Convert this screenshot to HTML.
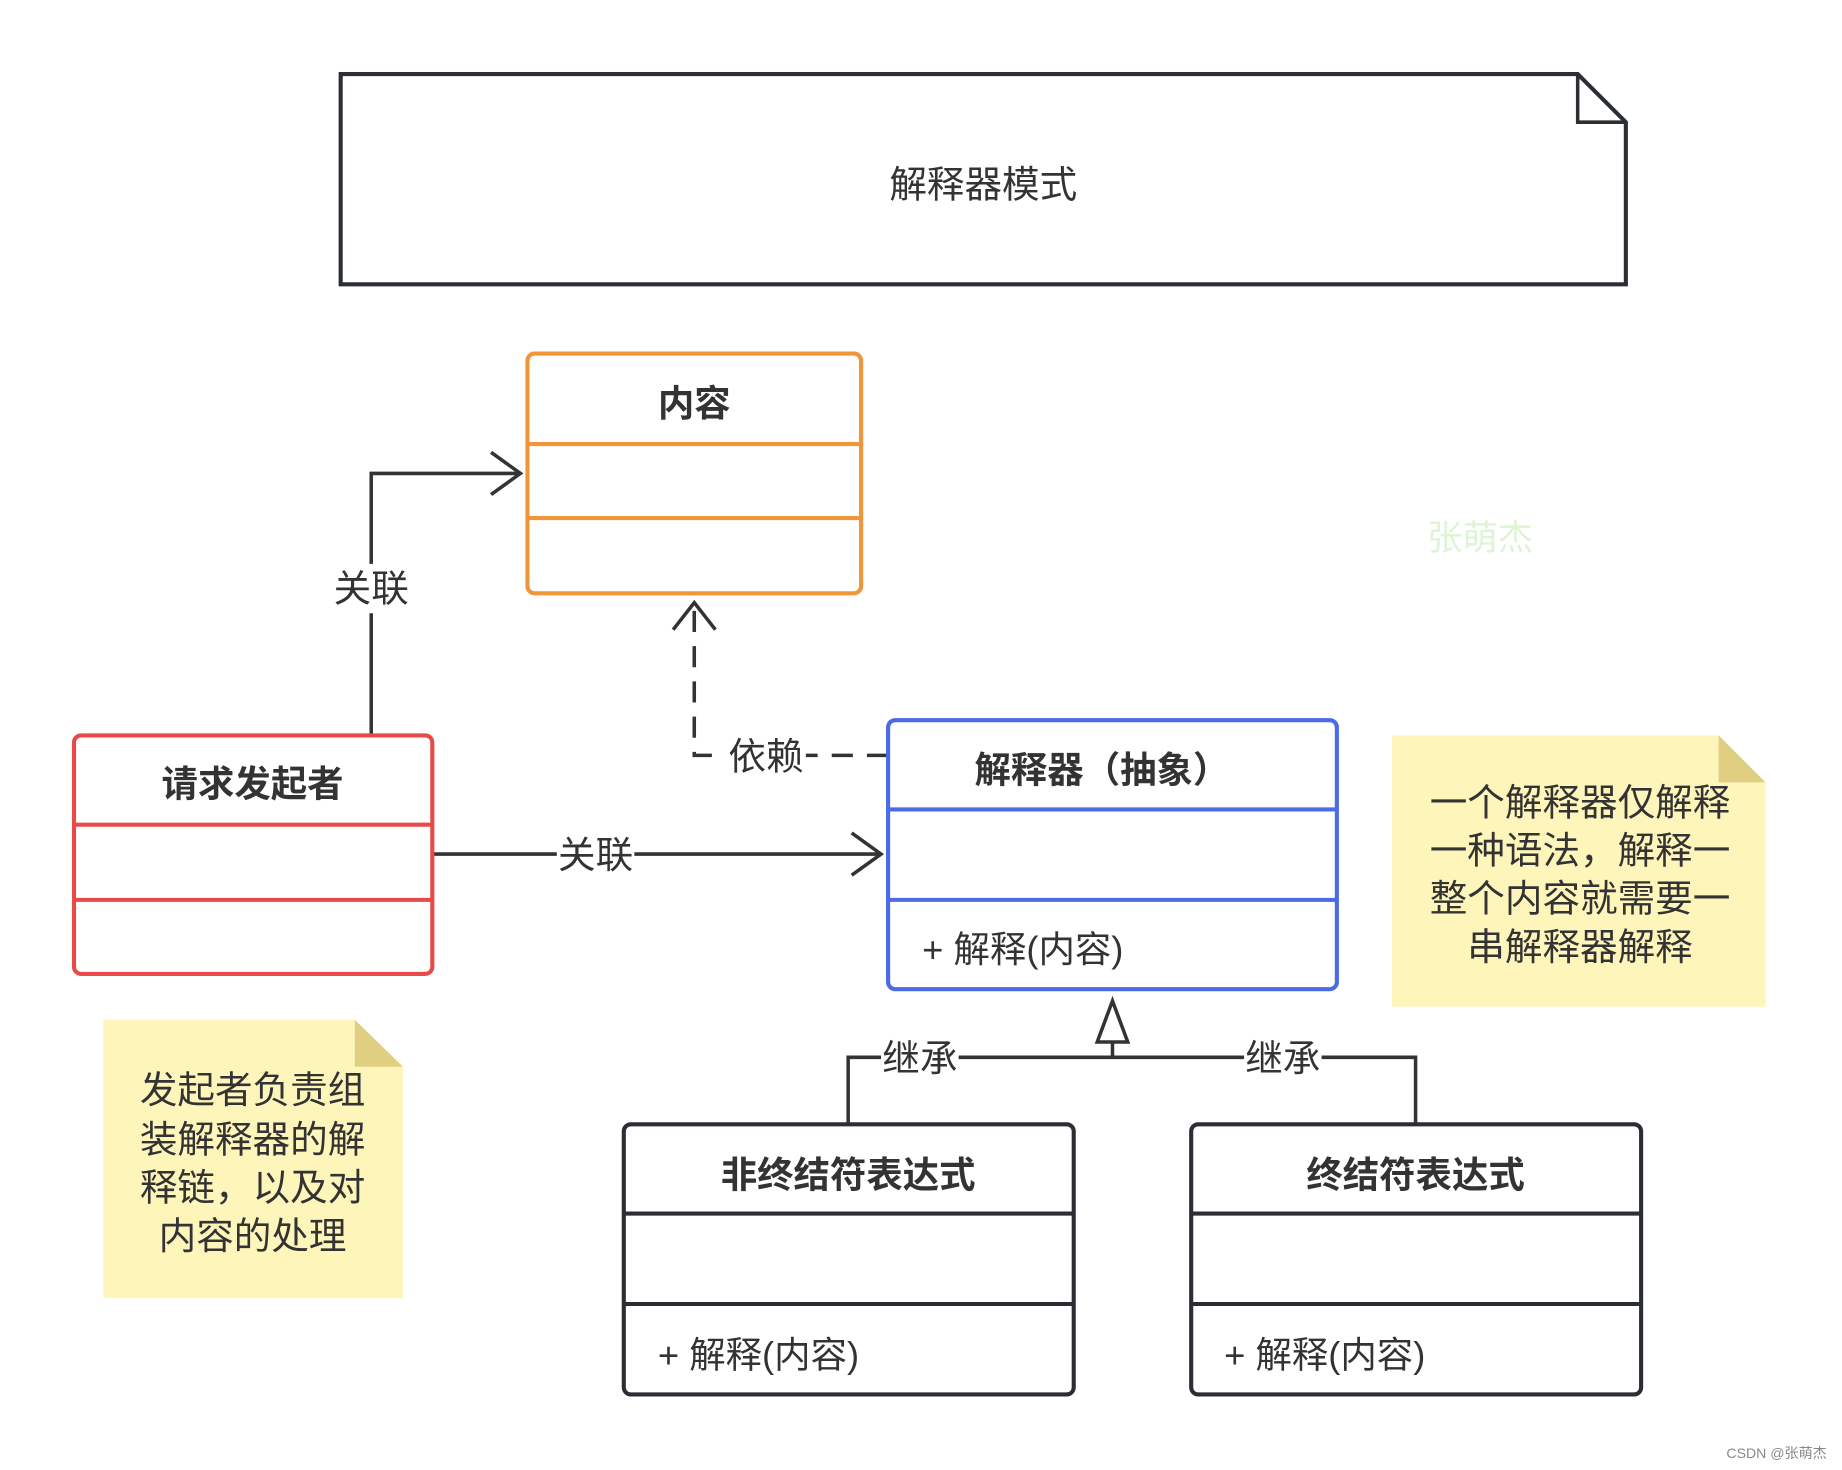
<!DOCTYPE html>
<html><head><meta charset="utf-8"><style>
html,body{margin:0;padding:0;background:#fff;}
svg{display:block;}
text{font-family:"Liberation Sans","Noto Sans CJK SC",sans-serif;}
</style></head><body>
<svg width="1842" height="1470" viewBox="0 0 1568 1251.3" preserveAspectRatio="none" xmlns="http://www.w3.org/2000/svg">
<rect width="1568" height="1252" fill="#fff"/>
<!-- title note -->
<path d="M290,63 H1343 L1384,104 V242 H290 Z" fill="#fff" stroke="#2b2f33" stroke-width="3.5"/>
<path d="M1343,63 V104 H1384" fill="none" stroke="#2b2f33" stroke-width="3"/>
<text x="837" y="168" font-size="32" text-anchor="middle" fill="#333">解释器模式</text>

<!-- connectors -->
<g fill="none" stroke="#333" stroke-width="3">
<path d="M316,625 V403 H443"/>
<path d="M418,385 L443,403 L418,421"/>
<path d="M368,727 H750"/>
<path d="M725,709 L750,727 L725,745"/>
<path d="M756,643 H591 V513" stroke-dasharray="18,12"/>
<path d="M573,536 L591,513 L609,536"/>
<path d="M722,957 V900 H1205 V957"/>
<path d="M947,900 V887"/>
<path d="M934,887 L947,852 L960,887 Z" fill="#fff"/>
</g>
<g font-size="32" fill="#333" text-anchor="middle">
<rect x="283" y="480" width="66" height="42" fill="#fff"/><text x="316" y="512">关联</text>
<rect x="474" y="707" width="66" height="42" fill="#fff"/><text x="507" y="739">关联</text>
<rect x="618" y="623" width="68" height="42" fill="#fff"/><text x="652" y="655">依赖</text>
<rect x="750" y="880" width="66" height="42" fill="#fff"/><text x="783" y="912">继承</text>
<rect x="1059" y="880" width="66" height="42" fill="#fff"/><text x="1092" y="912">继承</text>
</g>

<!-- 内容 -->
<g fill="none" stroke="#f0953a" stroke-width="3.5">
<rect x="449" y="301" width="284" height="204" rx="6" fill="#fff"/>
<path d="M449,378 H733 M449,441 H733"/>
</g>
<text x="591" y="354" font-size="31" font-weight="bold" text-anchor="middle" fill="#333">内容</text>

<!-- 请求发起者 -->
<g fill="none" stroke="#e84a4a" stroke-width="3.5">
<rect x="63" y="626" width="305" height="203" rx="6" fill="#fff"/>
<path d="M63,702 H368 M63,766 H368"/>
</g>
<text x="215" y="678" font-size="31" font-weight="bold" text-anchor="middle" fill="#333">请求发起者</text>

<!-- 解释器 -->
<g fill="none" stroke="#4a6ae8" stroke-width="3.5">
<rect x="756" y="613" width="382" height="229" rx="6" fill="#fff"/>
<path d="M756,689 H1138 M756,766 H1138"/>
</g>
<text x="938" y="666" font-size="31" font-weight="bold" text-anchor="middle" fill="#333">解释器（抽象）</text>
<text x="785" y="819" font-size="31" fill="#333">+ 解释(内容)</text>

<!-- 非终结符 -->
<g fill="none" stroke="#2b2f33" stroke-width="3.5">
<rect x="531" y="957" width="383" height="230" rx="6" fill="#fff"/>
<path d="M531,1033 H914 M531,1110 H914"/>
<rect x="1014" y="957" width="383" height="230" rx="6" fill="#fff"/>
<path d="M1014,1033 H1397 M1014,1110 H1397"/>
</g>
<text x="722" y="1011" font-size="31" font-weight="bold" text-anchor="middle" fill="#333">非终结符表达式</text>
<text x="560" y="1164" font-size="31" fill="#333">+ 解释(内容)</text>
<text x="1205" y="1011" font-size="31" font-weight="bold" text-anchor="middle" fill="#333">终结符表达式</text>
<text x="1042" y="1164" font-size="31" fill="#333">+ 解释(内容)</text>

<!-- notes -->
<path d="M88,868 H302 L343,908 V1105 H88 Z" fill="#fef5bb"/>
<path d="M302,868 L343,908 H302 Z" fill="#e0cf80"/>
<g font-size="32" fill="#333" text-anchor="middle">
<text x="215" y="939">发起者负责组</text>
<text x="215" y="981">装解释器的解</text>
<text x="215" y="1022">释链，以及对</text>
<text x="215" y="1063">内容的处理</text>
</g>
<path d="M1185,626 H1463 L1503,666 V857 H1185 Z" fill="#fef5bb"/>
<path d="M1463,626 L1503,666 H1463 Z" fill="#e0cf80"/>
<g font-size="32" fill="#333" text-anchor="middle">
<text x="1345" y="694">一个解释器仅解释</text>
<text x="1345" y="735">一种语法，解释一</text>
<text x="1345" y="776">整个内容就需要一</text>
<text x="1345" y="817">串解释器解释</text>
</g>

<text x="1260" y="468" font-size="30" text-anchor="middle" fill="#dff3d6">张萌杰</text>
<text x="1555" y="1241" font-size="12" text-anchor="end" fill="#888">CSDN @张萌杰</text>
</svg>
</body></html>
